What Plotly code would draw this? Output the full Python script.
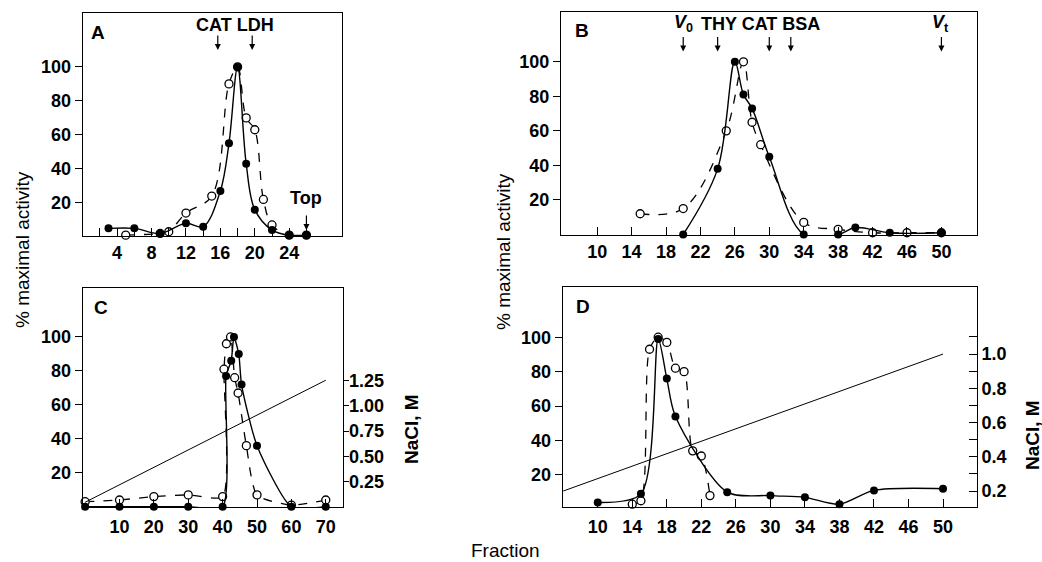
import plotly.graph_objects as go

# panel A: sucrose gradient
a_fill_x = [3, 6, 9, 12, 14, 16, 17, 18, 19, 20, 22, 24, 26]
a_fill_y = [5, 5, 2, 8, 6, 27, 55, 100, 43, 16, 4, 1, 1]
a_open_x = [5, 9, 10, 12, 15, 17, 18, 19, 20, 21, 22, 24, 26]
a_open_y = [1, 2, 3, 14, 24, 90, 100, 70, 63, 22, 7, 1, 1]

# panel B: gel filtration
b_fill_x = [20, 24, 26, 27, 28, 30, 34, 38, 40, 44, 50]
b_fill_y = [0, 38, 100, 81, 73, 45, 0, 0, 4, 1, 1]
b_open_x = [15, 20, 25, 27, 28, 29, 34, 38, 42, 46, 50]
b_open_y = [12, 15, 60, 100, 65, 52, 7, 3, 1, 1, 1]

# panel C: ion exchange, NaCl gradient
c_fill_x = [0, 10, 20, 30, 40, 41, 42.5, 43.3, 44.7, 45.5, 50, 60, 70]
c_fill_y = [0, 0, 0, 0, 0, 77, 86, 100, 90, 72, 36, 0, 0]
c_open_x = [0, 10, 20, 30, 40, 40.4, 41.1, 42.3, 43.5, 44.5, 46.9, 50, 60, 70]
c_open_y = [3, 4, 6, 7, 6, 81, 96, 100, 76, 67, 36, 7, 1, 4]
c_nacl_x = [0, 70]
c_nacl_y = [0.05, 1.25]

# panel D
d_fill_x = [10, 15, 17, 18, 19, 25, 30, 34, 38, 42, 50]
d_fill_y = [4, 9, 99, 76, 54, 10, 8, 7, 3, 11, 12]
d_open_x = [14, 15, 16, 17, 18, 19, 20, 21, 22, 23]
d_open_y = [3, 5, 93, 100, 97, 82, 80, 34, 31, 8]
d_nacl_x = [6, 50]
d_nacl_y = [0.2, 1.0]

# marker arrows (fraction positions) and their labels
a_arrows = [15.7, 19.7]
a_label = ("CAT LDH", 17.7)
b_arrows = [20, 24, 30, 32.5, 50]
b_labels = [("<i>V</i><sub>0</sub>", 20), ("THY CAT BSA", 29), ("<i>V</i><sub>t</sub>", 49.9)]

W, H = 1042, 562
FONT = "Liberation Sans, Arial, sans-serif"


def px(x):
    return x / W


def py(y):
    return 1 - y / H


fig = go.Figure()


def add_pair(fx, fy, ox, oy, xa, ya, smooth=1.0):
    fig.add_trace(go.Scatter(x=ox, y=oy, xaxis=xa, yaxis=ya, mode="lines+markers",
                             line=dict(color="black", width=1.3, dash="dash", shape="spline", smoothing=smooth),
                             marker=dict(size=8, color="white", line=dict(color="black", width=1.3)),
                             cliponaxis=False))
    fig.add_trace(go.Scatter(x=fx, y=fy, xaxis=xa, yaxis=ya, mode="lines+markers",
                             line=dict(color="black", width=1.4, shape="spline", smoothing=smooth),
                             marker=dict(size=8, color="black"),
                             cliponaxis=False))


add_pair(a_fill_x, a_fill_y, a_open_x, a_open_y, "x", "y")
add_pair(b_fill_x, b_fill_y, b_open_x, b_open_y, "x2", "y2")
add_pair(c_fill_x, c_fill_y, c_open_x, c_open_y, "x3", "y3", 0.6)
add_pair(d_fill_x, d_fill_y, d_open_x, d_open_y, "x4", "y5", 0.8)

fig.add_trace(go.Scatter(x=c_nacl_x, y=c_nacl_y, xaxis="x3", yaxis="y4", mode="lines",
                         line=dict(color="black", width=1)))
fig.add_trace(go.Scatter(x=d_nacl_x, y=d_nacl_y, xaxis="x4", yaxis="y6", mode="lines",
                         line=dict(color="black", width=1)))

TICKFONT = dict(size=18, color="black", family=FONT, weight="bold")
xcommon = dict(showline=True, mirror=True, linecolor="black", linewidth=1.3, ticks="inside",
               ticklen=8, tickwidth=1.2, tickcolor="black", showgrid=False, zeroline=False,
               tickfont=TICKFONT)
ycommon = dict(showline=True, mirror=True, linecolor="black", linewidth=1.3, ticks="outside",
               ticklen=7, tickwidth=1.2, tickcolor="black", showgrid=False, zeroline=False,
               tickvals=[20, 40, 60, 80, 100], tickfont=TICKFONT)

a_ticks = list(range(2, 28, 2))
fig.update_layout(
    width=W, height=H, margin=dict(l=0, r=0, t=0, b=0),
    plot_bgcolor="white", paper_bgcolor="white", showlegend=False,
    font=dict(family=FONT, color="black"),
    xaxis=dict(domain=[px(82.7), px(341.7)], range=[0, 30.1], anchor="y",
               tickvals=a_ticks, ticktext=[str(t) if t % 4 == 0 else "" for t in a_ticks], **xcommon),
    yaxis=dict(domain=[py(236), py(12.5)], range=[0.5, 132], anchor="x", **ycommon),
    xaxis2=dict(domain=[px(561), px(976.7)], range=[5.8, 54.1], anchor="y2",
                tickvals=list(range(10, 51, 4)), **xcommon),
    yaxis2=dict(domain=[py(235), py(11.7)], range=[-0.3, 129], anchor="x2", **ycommon),
    xaxis3=dict(domain=[px(82.7), px(343.3)], range=[-0.7, 75.1], anchor="y3",
                tickvals=list(range(10, 71, 10)), ticklabelstandoff=3, **xcommon),
    yaxis3=dict(domain=[py(507.3), py(287.7)], range=[-0.3, 129], anchor="x3", **ycommon),
    yaxis4=dict(overlaying="y3", side="right", anchor="x3", range=[0, 2.16],
                showline=True, linecolor="black", linewidth=1.3, ticks="outside", ticklen=5,
                tickwidth=1.2, tickcolor="black", showgrid=False, zeroline=False,
                tickvals=[0.25, 0.5, 0.75, 1.0, 1.25], ticktext=["0.25", "0.50", "0.75", "1.00", "1.25"],
                ticklabelstandoff=-4, tickfont=TICKFONT),
    xaxis4=dict(domain=[px(562.7), px(976.7)], range=[5.94, 53.9], anchor="y5",
                tickvals=list(range(10, 51, 4)), ticklabelstandoff=3, **xcommon),
    yaxis5=dict(domain=[py(507.3), py(287.3)], range=[1.2, 129], anchor="x4", **ycommon),
    yaxis6=dict(overlaying="y5", side="right", anchor="x4", range=[0.105, 1.39],
                showline=True, linecolor="black", linewidth=1.3, ticks="inside", ticklen=8,
                tickwidth=1.2, tickcolor="black", showgrid=False, zeroline=False,
                tickvals=[0.2, 0.3, 0.4, 0.5, 0.6, 0.7, 0.8, 0.9, 1.0, 1.1],
                ticktext=["0.2", "", "0.4", "", "0.6", "", "0.8", "", "1.0", ""],
                tickfont=TICKFONT),
)

ann = []


def label(text, x, y, xref, yref, size=18, bold=False, angle=0):
    ann.append(dict(text=("<b>%s</b>" % text) if bold else text, x=x, y=y, xref=xref, yref=yref,
                    showarrow=False, textangle=angle, xanchor="center", yanchor="middle",
                    font=dict(size=size, color="black", family=FONT)))


def arrow(x, y, xref, yref, length=16):
    ann.append(dict(text="", x=x, y=y, xref=xref, yref=yref, showarrow=True, ax=0, ay=-length,
                    arrowhead=2, arrowsize=1, arrowwidth=1.2, arrowcolor="black"))


label(a_label[0], a_label[1], 124.5, "x", "y", 18, True)
for xa in a_arrows:
    arrow(xa, 110, "x", "y")
label("Top", 26, 23, "x", "y", 18, True)
arrow(26, 4, "x", "y")

for name, xl in b_labels:
    label(name, xl, 122, "x2", "y2", 18, True)
for xa in b_arrows:
    arrow(xa, 106, "x2", "y2")

label("A", 1.8, 120, "x", "y", 19, True)
label("B", 8.2, 118, "x2", "y2", 19, True)
label("C", 4.7, 117.6, "x3", "y3", 19, True)
label("D", 8.3, 117.8, "x4", "y5", 19, True)

label("% maximal activity", px(22), py(250), "paper", "paper", 19, angle=-90)
label("% maximal activity", px(503), py(252), "paper", "paper", 19, angle=-90)
label("NaCl, M", px(411), py(429), "paper", "paper", 19, True, angle=-90)
label("NaCl, M", px(1032), py(435), "paper", "paper", 19, True, angle=-90)
label("Fraction", px(505), py(550), "paper", "paper", 19)

fig.update_layout(annotations=ann)

# page body has a default margin; remove it so the figure fills the window
fig.write_html("out.html", config={"displayModeBar": False},
               post_script="document.body.style.margin='0';")
